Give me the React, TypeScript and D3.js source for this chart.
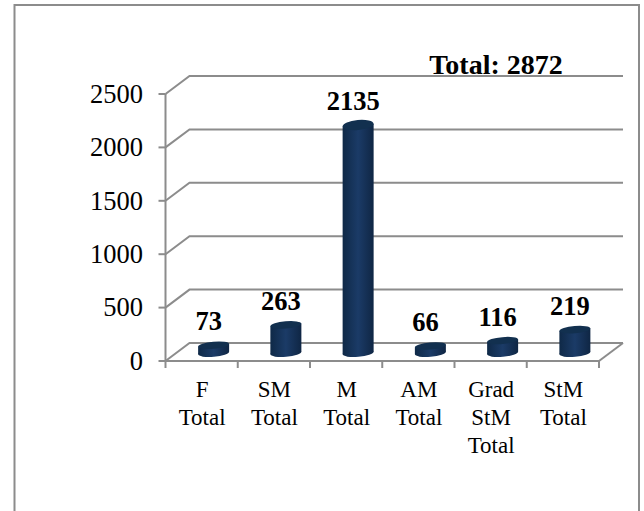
import * as d3 from "d3";

const categories = [["F", "Total"], ["SM", "Total"], ["M", "Total"], ["AM", "Total"], ["Grad", "StM", "Total"], ["StM", "Total"]];
const counts = [73, 263, 2135, 66, 116, 219];
const yTicks = [0, 500, 1000, 1500, 2000, 2500];
const totalLabel = "Total: 2872";

const serif = "'Liberation Serif', serif";
const gridColor = "#8c8c8c";
const depthX = 24;
const depthY = -18;

const x = d3.scaleBand<number>().domain(d3.range(categories.length)).range([165.5, 599]);
const y = d3.scaleLinear().domain([0, 2500]).range([361, 94]);
// cap gets rounder the higher it sits (perspective of the original 3D chart)
const capRy = d3.scaleLinear().domain([0, 2135]).range([3.4, 5]);

export default function App() {
  const rx = 15.5;
  const baseOffsetY = -8;
  const tilt = -5;

  return (
    <svg
      width={644}
      height={511}
      style={{ position: "absolute", left: 0, top: 0, background: "#fff" }}
      fontFamily={serif}
    >
      <defs>
        <linearGradient id="cyl" x1="0" x2="1" y1="0" y2="0">
          <stop offset="0" stopColor="#0f2947" />
          <stop offset="0.5" stopColor="#1b3b67" />
          <stop offset="1" stopColor="#0f2644" />
        </linearGradient>
      </defs>

      {/* outer frame */}
      <rect x={14.5} y={5} width={624.5} height={520} fill="none" stroke="#8c8c8c" strokeWidth={2} />

      {/* gridlines with depth */}
      {yTicks.map((t) => (
        <polyline
          key={t}
          points={`${x.range()[0]},${y(t)} ${x.range()[0] + depthX},${y(t) + depthY} ${x.range()[1] + depthX},${y(t) + depthY}`}
          fill="none"
          stroke={gridColor}
          strokeWidth={2}
        />
      ))}

      {/* floor */}
      <polyline
        points={`${x.range()[1]},${y(0)} ${x.range()[1] + depthX},${y(0) + depthY}`}
        fill="none"
        stroke={gridColor}
        strokeWidth={2}
      />
      <line x1={x.range()[0]} x2={x.range()[1]} y1={y(0)} y2={y(0)} stroke={gridColor} strokeWidth={2} />

      {/* y axis */}
      <line x1={x.range()[0]} x2={x.range()[0]} y1={y(2500)} y2={y(0)} stroke={gridColor} strokeWidth={2} />
      {yTicks.map((t) => (
        <g key={t}>
          <line x1={x.range()[0] - 7} x2={x.range()[0]} y1={y(t)} y2={y(t)} stroke={gridColor} strokeWidth={2} />
          <text x={143} y={y(t) + 8.7} textAnchor="end" fontSize={26.5} fill="#000">
            {t}
          </text>
        </g>
      ))}

      {/* category ticks */}
      {[...x.domain(), categories.length].map((i) => {
        const px = i === categories.length ? x.range()[1] : (x(i) as number);
        return <line key={i} x1={px} x2={px} y1={y(0)} y2={y(0) + 7} stroke={gridColor} strokeWidth={2} />;
      })}

      {/* cylinders */}
      {counts.map((v, i) => {
        const cx = (x(i) as number) + x.bandwidth() / 2 + depthX / 2;
        const yBase = y(0) + baseOffsetY;
        const yTop = y(v) + baseOffsetY;
        const dy = rx * Math.sin((-tilt * Math.PI) / 180);
        const body = d3.path();
        body.moveTo(cx - rx, yTop + dy);
        body.lineTo(cx + rx, yTop - dy);
        body.lineTo(cx + rx, yBase - dy);
        body.lineTo(cx - rx, yBase + dy);
        body.closePath();
        return (
          <g key={i}>
            <ellipse cx={cx} cy={yBase} rx={rx} ry={3.8} transform={`rotate(${tilt} ${cx} ${yBase})`} fill="url(#cyl)" />
            <path d={body.toString()} fill="url(#cyl)" />
            <ellipse cx={cx} cy={yTop} rx={rx} ry={capRy(v)} transform={`rotate(${tilt} ${cx} ${yTop})`} fill="#12304f" />
            <text x={cx - 5} y={yTop - 15} textAnchor="middle" fontSize={26.5} fontWeight="bold" fill="#000">
              {v}
            </text>
          </g>
        );
      })}

      {/* category labels */}
      {categories.map((lines, i) => (
        <text key={i} textAnchor="middle" fontSize={23} fill="#000">
          {lines.map((l, j) => (
            <tspan key={j} x={(x(i) as number) + x.bandwidth() / 2 + 0.5} y={397 + j * 27.8}>
              {l}
            </tspan>
          ))}
        </text>
      ))}

      <text x={496} y={74} textAnchor="middle" fontSize={28} fontWeight="bold" fill="#000">
        {totalLabel}
      </text>
    </svg>
  );
}
